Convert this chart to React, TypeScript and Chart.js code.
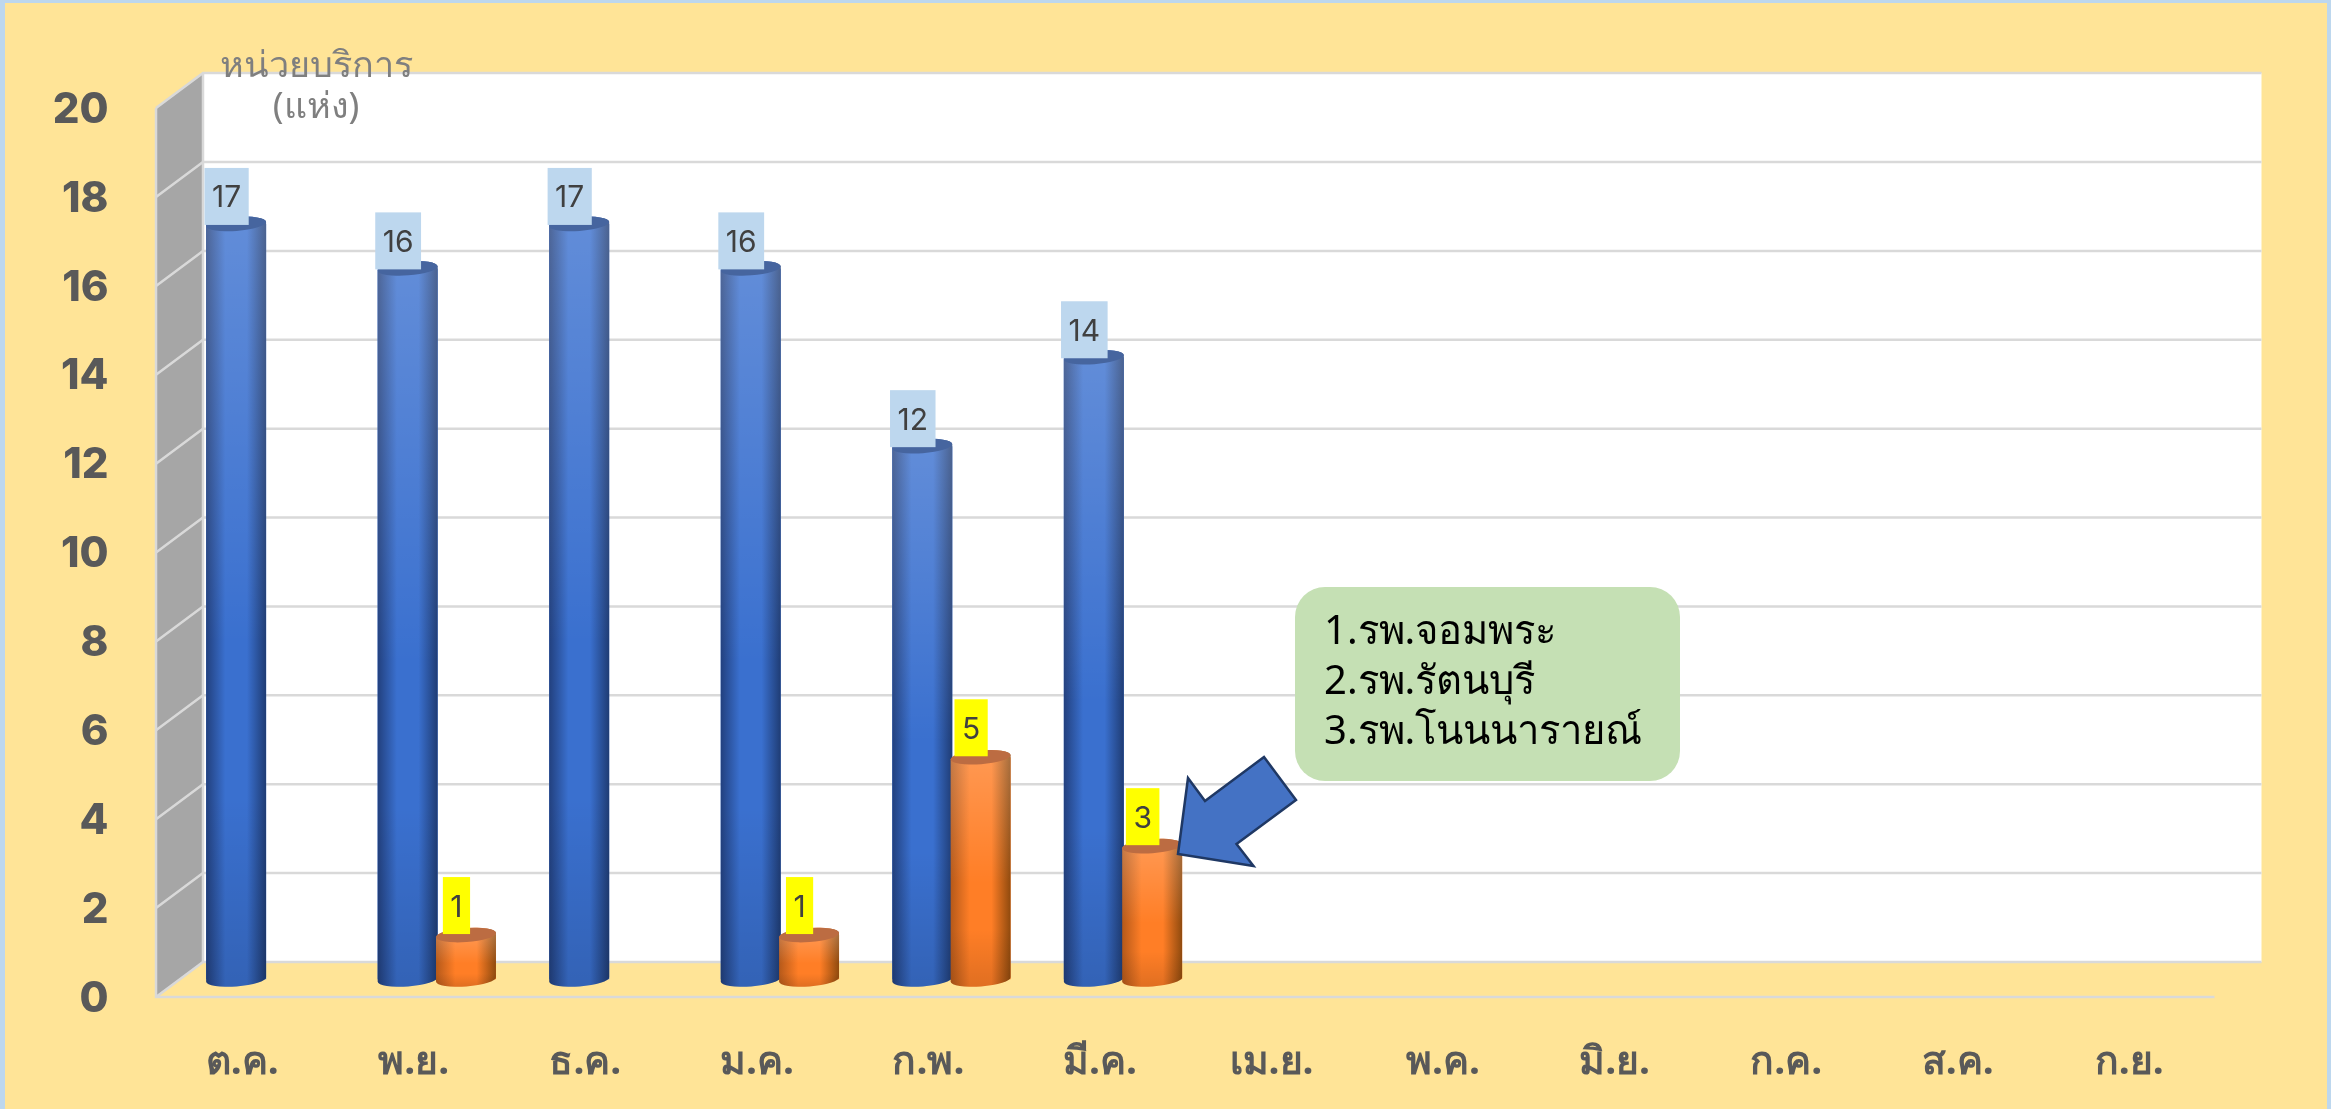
import React, { useEffect, useRef } from "react";
import { Chart, registerables } from "chart.js";

Chart.register(...registerables);

const months = ["ต.ค.", "พ.ย.", "ธ.ค.", "ม.ค.", "ก.พ.", "มี.ค.", "เม.ย.", "พ.ค.", "มิ.ย.", "ก.ค.", "ส.ค.", "ก.ย."];
const blueValues = [17, 16, 17, 16, 12, 14, null, null, null, null, null, null];
const orangeValues = [null, 1, null, 1, 5, 3, null, null, null, null, null, null];
const axisTitleLines = ["หน่วยบริการ", "(แห่ง)"];
const calloutLines = ["1.รพ.จอมพระ", "2.รพ.รัตนบุรี", "3.รพ.โนนนารายณ์"];

const W = 2331;
const H = 1109;
const FONT = '"Noto Sans", "Inter", "DejaVu Sans", sans-serif';
const DX = 23.5;
const DY = 17.5;

const styles = [
  {
    edgeL: "#22407E", mid: "#3A70CF", edgeR: "#1F3C74", cap: "#46659F",
    labelBg: "#BDD7EE", labelShift: 1,
  },
  {
    edgeL: "#B5591A", mid: "#FF7E26", edgeR: "#8F4A0E", cap: "#BC6C42",
    labelBg: "#FFFF00", labelShift: -1,
  },
];

const scene = {
  id: "scene",
  beforeDraw(chart: any) {
    const { ctx } = chart;
    ctx.save();
    ctx.fillStyle = "#BDD7EE";
    ctx.fillRect(0, 0, W, H);
    ctx.fillStyle = "#FFE497";
    ctx.fillRect(5, 3, 2322, H - 3);
    ctx.restore();
  },
  beforeDatasetsDraw(chart: any) {
    const { ctx, chartArea, scales } = chart;
    const y = scales.y;
    const backL = chartArea.left + DX;
    const backR = chartArea.right + DX;
    const frontL = chartArea.left - DX;
    const frontR = chartArea.right - DX;
    const top = y.getPixelForValue(y.max);
    const bot = y.getPixelForValue(y.min);
    ctx.save();
    ctx.fillStyle = "#FFFFFF";
    ctx.fillRect(backL, top - DY, backR - backL, bot - top);
    ctx.fillStyle = "#A6A6A6";
    ctx.beginPath();
    ctx.moveTo(frontL, top + DY);
    ctx.lineTo(backL, top - DY);
    ctx.lineTo(backL, bot - DY);
    ctx.lineTo(frontL, bot + DY);
    ctx.closePath();
    ctx.fill();
    ctx.strokeStyle = "#D9D9D9";
    ctx.lineWidth = 2.5;
    for (const t of y.ticks) {
      const p = y.getPixelForValue(t.value);
      ctx.beginPath();
      ctx.moveTo(frontL, p + DY);
      ctx.lineTo(backL, p - DY);
      ctx.lineTo(backR, p - DY);
      ctx.stroke();
    }
    ctx.beginPath();
    ctx.moveTo(backL, top - DY);
    ctx.lineTo(backL, bot - DY);
    ctx.stroke();
    ctx.beginPath();
    ctx.moveTo(frontL, top + DY);
    ctx.lineTo(frontL, bot + DY);
    ctx.lineTo(frontR, bot + DY);
    ctx.stroke();
    ctx.restore();
  },
  afterDatasetsDraw(chart: any) {
    const { ctx } = chart;
    const tilt = -0.075;
    [0, 1].forEach((di) => {
      const s = styles[di];
      chart.getDatasetMeta(di).data.forEach((el: any, i: number) => {
        if (chart.data.datasets[di].data[i] == null) return;
        const { x, y, base, width } = el;
        const rx = width / 2;
        const ry = 7;
        const l = x - rx;
        const r = x + rx;
        ctx.save();
        ctx.beginPath();
        ctx.ellipse(x, y, rx, ry, tilt, Math.PI, 0, false);
        ctx.ellipse(x, base, rx, ry, tilt, 0, Math.PI, false);
        ctx.closePath();
        ctx.clip();
        const g = ctx.createLinearGradient(l, 0, r, 0);
        g.addColorStop(0, s.edgeL);
        g.addColorStop(0.32, s.mid);
        g.addColorStop(0.68, s.mid);
        g.addColorStop(1, s.edgeR);
        ctx.fillStyle = g;
        ctx.fillRect(l - 2, y - 12, width + 4, base - y + 30);
        const v = ctx.createLinearGradient(0, y, 0, base + 7);
        v.addColorStop(0, "rgba(255,255,255,0.2)");
        v.addColorStop(0.55, "rgba(255,255,255,0)");
        v.addColorStop(0.75, "rgba(0,0,0,0)");
        v.addColorStop(1, "rgba(0,0,0,0.12)");
        ctx.fillStyle = v;
        ctx.fillRect(l - 2, y - 12, width + 4, base - y + 30);
        ctx.restore();
        ctx.fillStyle = s.cap;
        ctx.beginPath();
        ctx.ellipse(x, y, rx, ry, tilt, 0, Math.PI * 2);
        ctx.fill();
      });
    });
  },
  afterDraw(chart: any) {
    const { ctx } = chart;
    ctx.save();
    // data labels
    ctx.font = `30px "Inter", ${FONT}`;
    ctx.textAlign = "center";
    ctx.textBaseline = "middle";
    [0, 1].forEach((di) => {
      const s = styles[di];
      chart.getDatasetMeta(di).data.forEach((el: any, i: number) => {
        const val = chart.data.datasets[di].data[i];
        if (val == null) return;
        const text = String(val);
        const cx = el.x - 9.5;
        const w = ctx.measureText(text).width + 15;
        const h = 57;
        const bottom = el.y + s.labelShift;
        ctx.fillStyle = s.labelBg;
        ctx.fillRect(cx - w / 2, bottom - h, w, h);
        ctx.fillStyle = "#404040";
        ctx.fillText(text, cx, bottom - h / 2 + 2);
      });
    });
    // axis title
    ctx.fillStyle = "#7F7F7F";
    ctx.font = `36px ${FONT}`;
    axisTitleLines.forEach((t, i) => ctx.fillText(t, 316, 67 + i * 41));
    // callout
    ctx.fillStyle = "#C5E0B4";
    ctx.beginPath();
    ctx.roundRect(1295, 587, 385, 194, 30);
    ctx.fill();
    ctx.fillStyle = "#000000";
    ctx.font = `40px ${FONT}`;
    ctx.textAlign = "left";
    calloutLines.forEach((t, i) => ctx.fillText(t, 1324, 633 + i * 50));
    // arrow
    const arrow = [[1178, 854], [1188, 778], [1205, 801], [1264, 757], [1296, 800], [1236.5, 844], [1253.5, 866]];
    ctx.beginPath();
    arrow.forEach(([px, py], i) => (i ? ctx.lineTo(px, py) : ctx.moveTo(px, py)));
    ctx.closePath();
    ctx.fillStyle = "#4472C4";
    ctx.fill();
    ctx.strokeStyle = "#1F3864";
    ctx.lineWidth = 2.5;
    ctx.stroke();
    ctx.restore();
  },
};

export default function App() {
  const ref = useRef<HTMLCanvasElement>(null);
  useEffect(() => {
    document.body.style.margin = "0";
    document.body.style.overflow = "hidden";
    const chart = new Chart(ref.current!, {
      type: "bar",
      data: {
        labels: months,
        datasets: [
          { label: "blue", data: blueValues, backgroundColor: "#3A70CF", categoryPercentage: 0.68, barPercentage: 1.03 },
          { label: "orange", data: orangeValues, backgroundColor: "#FF7E26", categoryPercentage: 0.68, barPercentage: 1.03 },
        ],
      } as any,
      options: {
        responsive: false,
        animation: false,
        layout: { padding: { top: 90.6, right: 93, left: 0, bottom: 0 } },
        plugins: { legend: { display: false }, tooltip: { enabled: false }, title: { display: false } },
        scales: {
          x: {
            grid: { display: false, drawTicks: false },
            border: { display: false },
            ticks: {
              color: "#595959",
              font: { family: FONT, size: 39, weight: "bold" },
              padding: 60,
              labelOffset: -23,
              maxRotation: 0,
              autoSkip: false,
            },
            afterFit: (s: any) => {
              s.height = H - 979.5;
              s.paddingLeft = 0;
              s.paddingRight = 0;
            },
          },
          y: {
            min: 0,
            max: 20,
            grid: { display: false, drawTicks: false },
            border: { display: false },
            ticks: {
              stepSize: 2,
              color: "#595959",
              font: { family: '"Inter", "Noto Sans", sans-serif', size: 42, weight: "800" },
              padding: 71,
              labelOffset: 19.5,
            },
            afterFit: (s: any) => {
              s.width = 179.5;
              s.paddingTop = 0;
              s.paddingBottom = 0;
            },
          },
        },
      } as any,
      plugins: [scene],
    });
    return () => chart.destroy();
  }, []);
  return <canvas ref={ref} width={W} height={H} style={{ display: "block" }} />;
}
